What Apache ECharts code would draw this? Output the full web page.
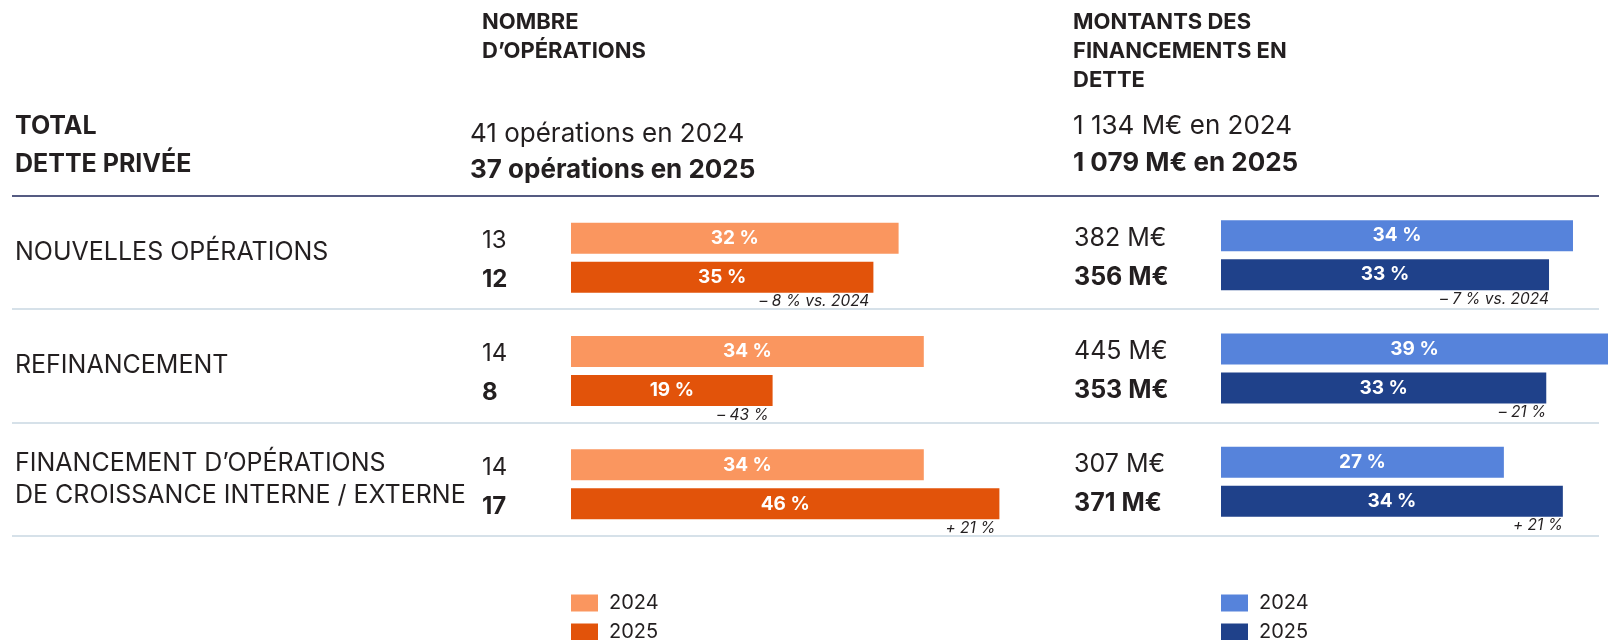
<!DOCTYPE html>
<html><head><meta charset="utf-8">
<script src="https://cdn.jsdelivr.net/npm/echarts@6/dist/echarts.min.js"></script>
<style>html,body{margin:0;padding:0;background:#fff}#c{width:1609px;height:640px}</style>
</head><body><div id="c"></div>
<script>
const categories = ['NOUVELLES OPÉRATIONS', 'REFINANCEMENT', 'FINANCEMENT D’OPÉRATIONS\nDE CROISSANCE INTERNE / EXTERNE'];
const years = ['2024', '2025'];
const ops2024 = [13, 14, 14];
const ops2025 = [12, 8, 17];
const opsShare2024 = [32, 34, 34];
const opsShare2025 = [35, 19, 46];
const opsChange = ['– 8 % vs. 2024', '– 43 %', '+ 21 %'];
const amt2024 = [382, 445, 307];
const amt2025 = [356, 353, 371];
const amtShare2024 = [34, 39, 27];
const amtShare2025 = [33, 33, 34];
const amtChange = ['– 7 % vs. 2024', '– 21 %', '+ 21 %'];
const totalOps = [41, 37];
const totalAmt = [1134, 1079];

const FONT = 'Inter';
const INK = '#231f20';
const C_OPS = ['#FA965F', '#E2530A'];
const C_AMT = ['#5683DB', '#1F418A'];
const BW = 31, GAP = 8;

function fmt(n) { return String(n).replace(/\B(?=(\d{3})+(?!\d))/g, ' '); }

function barSeries(name, data, shares, color, axis) {
  return {
    type: 'bar', name: name, xAxisIndex: axis, yAxisIndex: axis,
    data: data, barWidth: BW, barGap: (GAP / BW * 100) + '%', clip: true,
    itemStyle: { color: color },
    label: { show: true, position: 'inside', color: '#fff', fontFamily: FONT, fontWeight: 700, fontSize: 19,
      formatter: p => shares[p.dataIndex] + ' %' },
    emphasis: { disabled: true }, silent: true
  };
}
function noteSeries(values, notes, axis, dx) {
  return {
    type: 'custom', xAxisIndex: axis, yAxisIndex: axis, silent: true,
    data: values.map((v, i) => [v, i]),
    renderItem: function (params, api) {
      const i = api.value(1);
      const p = api.coord([api.value(0), i]);
      const bottom = p[1] + GAP / 2 + BW;
      return { type: 'text', x: p[0] + dx, y: bottom + 1,
        style: { text: notes[i], align: 'right', verticalAlign: 'top', fill: INK,
          fontFamily: FONT, fontStyle: 'italic', fontSize: 15.5 } };
    }
  };
}
function countAxis(gridIndex, margin, a, b, suffix, size) {
  return {
    type: 'category', gridIndex: gridIndex, data: categories, inverse: true,
    axisLine: { show: false }, axisTick: { show: false }, splitLine: { show: false },
    axisLabel: { align: 'left', margin: margin, interval: 0, padding: [5, 0, 0, 0],
      formatter: (v, i) => '{a|' + a[i] + suffix + '}\n{b|' + b[i] + suffix + '}',
      rich: {
        a: { fontFamily: FONT, fontSize: size, fontWeight: 400, color: INK, lineHeight: BW + GAP },
        b: { fontFamily: FONT, fontSize: size, fontWeight: 700, color: INK, lineHeight: BW + GAP }
      } }
  };
}
function legendItem(name, left, top) {
  return { data: [name], left: left, top: top, padding: 0, itemWidth: 27, itemHeight: 17, icon: 'rect',
    selectedMode: false, formatter: n => '{t|' + n.slice(3) + '}',
    textStyle: { fontFamily: FONT, fontSize: 20, color: INK,
      rich: { t: { fontFamily: FONT, fontSize: 20, color: INK, padding: [0, 0, 0, 6] } } } };
}

const chart = echarts.init(document.getElementById('c'), null, { renderer: 'canvas' });
chart.setOption({
  animation: false,
  backgroundColor: '#fff',
  title: [
    { left: 15, top: 107, padding: 0, text: 'TOTAL\nDETTE PRIVÉE',
      textStyle: { fontFamily: FONT, fontSize: 25, fontWeight: 700, color: INK, lineHeight: 38 } },
    { left: 482, top: 8, padding: 0, text: 'NOMBRE\nD’OPÉRATIONS',
      textStyle: { fontFamily: FONT, fontSize: 22, fontWeight: 700, color: INK, lineHeight: 29 } },
    { left: 1073, top: 8, padding: 0, text: 'MONTANTS DES\nFINANCEMENTS EN\nDETTE',
      textStyle: { fontFamily: FONT, fontSize: 22, fontWeight: 700, color: INK, lineHeight: 29 } },
    { left: 470, top: 116, padding: 0,
      text: '{a|' + totalOps[0] + ' opérations en ' + years[0] + '}\n{b|' + totalOps[1] + ' opérations en ' + years[1] + '}',
      textStyle: { rich: {
        a: { fontFamily: FONT, fontSize: 26, fontWeight: 400, color: INK, lineHeight: 36 },
        b: { fontFamily: FONT, fontSize: 26, fontWeight: 700, color: INK, lineHeight: 36 } } } },
    { left: 1073, top: 108, padding: 0,
      text: '{a|' + fmt(totalAmt[0]) + ' M€ en ' + years[0] + '}\n{b|' + fmt(totalAmt[1]) + ' M€ en ' + years[1] + '}',
      textStyle: { rich: {
        a: { fontFamily: FONT, fontSize: 26, fontWeight: 400, color: INK, lineHeight: 37 },
        b: { fontFamily: FONT, fontSize: 26, fontWeight: 700, color: INK, lineHeight: 37 } } } }
  ],
  legend: [
    legendItem('ops2024', 571, 593), legendItem('ops2025', 571, 622),
    legendItem('amt2024', 1221, 593), legendItem('amt2025', 1221, 622)
  ],
  grid: [
    { left: 571, top: 201, width: 504, height: 340, containLabel: false },
    { left: 1221, top: 198.5, width: 387, height: 340, containLabel: false },
    { left: 12, right: 10, top: 196, height: 339.7, containLabel: false }
  ],
  xAxis: [
    { type: 'value', gridIndex: 0, min: 0, max: 20, show: false },
    { type: 'value', gridIndex: 1, min: 0, max: 420, show: false },
    { type: 'value', gridIndex: 2, min: 0, max: 1, show: false }
  ],
  yAxis: [
    countAxis(0, 89, ops2024, ops2025, '', 24),
    countAxis(1, 147, amt2024, amt2025, ' M€', 25),
    { type: 'category', gridIndex: 2, data: categories, inverse: true,
      axisLine: { show: false }, axisTick: { show: false },
      splitLine: { show: true, interval: 0, lineStyle: { width: 1.5, color: ['#1d2559', '#c9d7e2', '#c9d7e2', '#c9d7e2'] } },
      axisLabel: { align: 'left', margin: -3, interval: 0, fontFamily: FONT, fontSize: 25, color: INK, lineHeight: 32 } }
  ],
  series: [
    barSeries('ops2024', ops2024, opsShare2024, C_OPS[0], 0),
    barSeries('ops2025', ops2025, opsShare2025, C_OPS[1], 0),
    noteSeries(ops2025, opsChange, 0, -4),
    barSeries('amt2024', amt2024, amtShare2024, C_AMT[0], 1),
    barSeries('amt2025', amt2025, amtShare2025, C_AMT[1], 1),
    noteSeries(amt2025, amtChange, 1, 0)
  ]
});
</script>
</body></html>
